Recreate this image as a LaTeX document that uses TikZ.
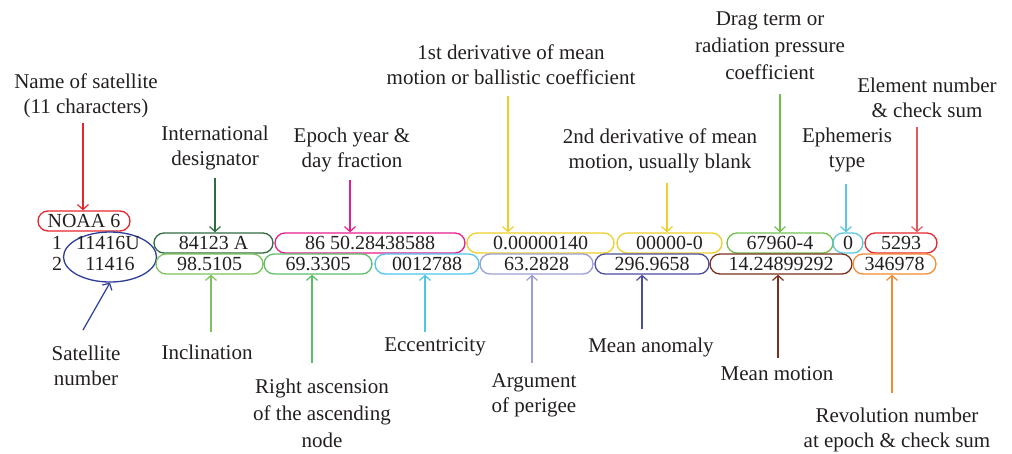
\documentclass[tikz,border=0pt]{standalone}
\usepackage{fontspec}
\setmainfont{Liberation Serif}
\usetikzlibrary{arrows.meta,shapes.geometric}
\definecolor{txt}{HTML}{231F20}
\definecolor{cRed}{HTML}{E6262E}
\definecolor{cRedL}{HTML}{E35A5E}
\definecolor{cDkGreen}{HTML}{2F6B3F}
\definecolor{cMag}{HTML}{E61E8C}
\definecolor{cYel}{HTML}{EDCF2B}
\definecolor{cDrag}{HTML}{72BE4B}
\definecolor{cCyan}{HTML}{5BC6DC}
\definecolor{cLgreen}{HTML}{7DC35A}
\definecolor{cGreen}{HTML}{5DBE6C}
\definecolor{cSky}{HTML}{4FC4EA}
\definecolor{cLav}{HTML}{9C9ED3}
\definecolor{cInd}{HTML}{4B4BA0}
\definecolor{cBrown}{HTML}{7B2F1E}
\definecolor{cOrange}{HTML}{F28C33}
\definecolor{cBlue}{HTML}{2C3E97}
\begin{document}
\begin{tikzpicture}[x=1pt,y=-1pt,
  lbl/.style={align=center,font=\fontsize{21}{25}\selectfont,text=txt,inner sep=0pt},
  lblthree/.style={lbl,font=\fontsize{21}{27}\selectfont},
  val/.style={font=\fontsize{20}{20}\selectfont,text=txt,inner sep=0pt,text height=13.5pt,text depth=0pt},
  box/.style={val,draw,rounded corners=10pt,minimum height=20pt,line width=1.3pt},
  arr/.style={line width=1.2pt,-{Straight Barb[length=5pt,width=11pt]}}]
\useasboundingbox (0,0) rectangle (1012,453);

% ---- data boxes ----
\node[box,draw=cRed,minimum width=92pt] (name) at (84,221) {NOAA 6};
\node[val] (l1) at (57,243) {1};
\node[val] (l2) at (57,264) {2};
\node[draw=cBlue,line width=1.3pt,ellipse,minimum width=93pt,minimum height=50pt,inner sep=0pt] (ell) at (110,257) {};
\node[val] (sn1) at (108,243) {11416U};
\node[val] (sn2) at (110,264) {11416};

\node[box,draw=cDkGreen,minimum width=119pt] (intl) at (213.5,243) {84123 A};
\node[box,draw=cMag,minimum width=190pt] (epoch) at (370,243) {86 50.28438588};
\node[box,draw=cYel,minimum width=147pt] (d1) at (540.5,243) {0.00000140};
\node[box,draw=cYel,minimum width=105pt] (d2) at (669.5,243) {00000-0};
\node[box,draw=cDrag,minimum width=106pt] (drag) at (780,243) {67960-4};
\node[box,draw=cCyan,minimum width=30pt] (eph) at (848,243) {0};
\node[box,draw=cRed,minimum width=72pt] (elem) at (901,243) {5293};

\node[box,draw=cLgreen,minimum width=107pt] (incl) at (209.5,264) {98.5105};
\node[box,draw=cGreen,minimum width=108pt] (raan) at (318,264) {69.3305};
\node[box,draw=cSky,minimum width=104pt] (ecc) at (427,264) {0012788};
\node[box,draw=cLav,minimum width=113pt] (argp) at (536.5,264) {63.2828};
\node[box,draw=cInd,minimum width=114pt] (manom) at (652,264) {296.9658};
\node[box,draw=cBrown,minimum width=142pt] (mmot) at (781,264) {14.24899292};
\node[box,draw=cOrange,minimum width=83pt] (rev) at (894.5,264) {346978};

% ---- top labels ----
\node[lbl] (tName) at (86,96) {Name of satellite\\(11 characters)};
\node[lbl] (tIntl) at (215,148) {International\\designator};
\node[lbl] (tEpoch) at (352,150) {Epoch year \&\\day fraction};
\node[lbl] (tD1) at (511,65) {1st derivative of mean\\motion or ballistic coefficient};
\node[lbl] (tD2) at (660,151) {2nd derivative of mean\\motion, usually blank};
\node[lblthree] (tDrag) at (770,46) {Drag term or\\radiation pressure\\coefficient};
\node[lbl] (tEph) at (847,150) {Ephemeris\\type};
\node[lbl] (tElem) at (927,98) {Element number\\\& check sum};

% ---- bottom labels ----
\node[lbl] (tSat) at (86,366) {Satellite\\number};
\node[lbl] (tIncl) at (207,352) {Inclination};
\node[lblthree] (tRaan) at (322,413) {Right ascension\\of the ascending\\node};
\node[lbl] (tEcc) at (435,347) {Eccentricity};
\node[lbl] (tArgp) at (534,395) {Argument\\of perigee};
\node[lbl] (tManom) at (651,347) {Mean anomaly};
\node[lbl] (tMmot) at (777,374) {Mean motion};
\node[lbl] (tRev) at (897,430) {Revolution number\\at epoch \& check sum};

% ---- arrow start points ----
\coordinate (sName) at (83,123);
\coordinate (sIntl) at (215,178);
\coordinate (sEpoch) at (350,180);
\coordinate (sD1) at (508,96);
\coordinate (sD2) at (667,183);
\coordinate (sDrag) at (780,94);
\coordinate (sEph) at (846,184);
\coordinate (sElem) at (917,127);
\coordinate (sSat) at (83,330);
\coordinate (sIncl) at (211,332);
\coordinate (sRaan) at (312,363);
\coordinate (sEcc) at (425,332);
\coordinate (sArgp) at (532,363);
\coordinate (sManom) at (642,329);
\coordinate (sMmot) at (778,358);
\coordinate (sRev) at (892,393);

% ---- arrows ----
\draw[arr,cRed] (sName) -- (name.north -| sName);
\draw[arr,cDkGreen] (sIntl) -- (intl.north -| sIntl);
\draw[arr,cMag] (sEpoch) -- (epoch.north -| sEpoch);
\draw[arr,cYel] (sD1) -- (d1.north -| sD1);
\draw[arr,cYel] (sD2) -- (d2.north -| sD2);
\draw[arr,cDrag] (sDrag) -- (drag.north -| sDrag);
\draw[arr,cCyan] (sEph) -- (eph.north -| sEph);
\draw[arr,cRedL] (sElem) -- (elem.north -| sElem);

\draw[arr,cBlue] (sSat) -- (ell.south);
\draw[arr,cLgreen] (sIncl) -- (incl.south -| sIncl);
\draw[arr,cGreen] (sRaan) -- (raan.south -| sRaan);
\draw[arr,cSky] (sEcc) -- (ecc.south -| sEcc);
\draw[arr,cLav] (sArgp) -- (argp.south -| sArgp);
\draw[arr,cInd] (sManom) -- (manom.south -| sManom);
\draw[arr,cBrown] (sMmot) -- (mmot.south -| sMmot);
\draw[arr,cOrange] (sRev) -- (rev.south -| sRev);
\end{tikzpicture}
\end{document}
